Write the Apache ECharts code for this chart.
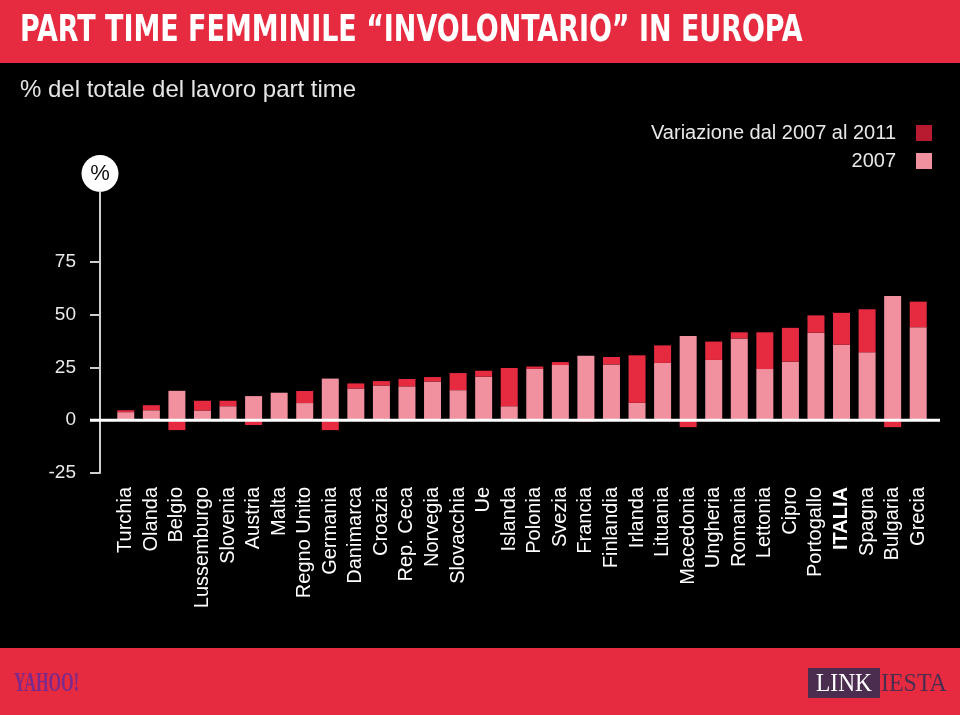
<!DOCTYPE html>
<html>
<head>
<meta charset="utf-8">
<script src="https://cdn.jsdelivr.net/npm/echarts@6/dist/echarts.min.js"></script>
<style>
html,body{margin:0;padding:0;background:#000;}
#c{width:960px;height:715px;}
</style>
</head>
<body>
<div id="c"></div>
<script>
var categories = ['Turchia','Olanda','Belgio','Lussemburgo','Slovenia','Austria','Malta','Regno Unito','Germania','Danimarca','Croazia','Rep. Ceca','Norvegia','Slovacchia','Ue','Islanda','Polonia','Svezia','Francia','Finlandia','Irlanda','Lituania','Macedonia','Ungheria','Romania','Lettonia','Cipro','Portogallo','ITALIA','Spagna','Bulgaria','Grecia'];
var values2007 = [3.8, 4.7, 13.9, 4.6, 6.6, 11.4, 13.0, 8.1, 19.7, 15.0, 16.4, 16.0, 18.3, 14.2, 20.6, 6.6, 24.3, 26.1, 30.5, 26.4, 8.2, 27.1, 39.9, 28.5, 38.7, 24.2, 27.7, 41.4, 35.7, 32.1, 58.8, 44.0];
var variation = [0.9, 2.4, -4.7, 4.6, 2.6, -2.3, 0, 5.7, -4.7, 2.4, 2.1, 3.5, 2.1, 8.1, 2.8, 18.1, 1.1, 1.4, -0.6, 3.5, 22.5, 8.3, -3.3, 8.7, 2.9, 17.4, 16.0, 8.2, 15.1, 20.4, -3.3, 12.1];
var yTicks = [-25, 0, 25, 50, 75];

var titleText = 'PART TIME FEMMINILE \u201CINVOLONTARIO\u201D IN EUROPA';
var subtitleText = '% del totale del lavoro part time';
var legendVar = 'Variazione dal 2007 al 2011';
var legend2007 = '2007';

var RED = '#e62b40';
var PINK = '#f1909f';
var FONT = "'Liberation Sans', Arial, sans-serif";

var chart = echarts.init(document.getElementById('c'), null, {renderer: 'canvas'});
chart.setOption({
  backgroundColor: '#000',
  animation: false,
  textStyle: {fontFamily: FONT},
  legend: {
    data: [
      {name: legendVar, itemStyle: {color: '#b81b30'}},
      {name: legend2007, itemStyle: {color: PINK}}
    ],
    orient: 'vertical',
    align: 'right',
    right: 23,
    top: 118,
    itemWidth: 16,
    itemHeight: 16,
    itemGap: 8,
    icon: 'rect',
    selectedMode: false,
    textStyle: {color: '#e8e8e8', fontSize: 20, fontFamily: FONT, padding: [0, 15, 0, 0]}
  },
  grid: {left: 113, right: 29, top: 192, bottom: 242, containLabel: false},
  xAxis: {
    type: 'category',
    data: categories,
    axisLine: {show: false, onZero: false},
    axisTick: {show: false},
    axisLabel: {
      interval: 0,
      rotate: 90,
      margin: 14,
      color: '#fff',
      fontSize: 20,
      fontFamily: FONT,
      formatter: function (v) { return v === 'ITALIA' ? '{b|' + v + '}' : v; },
      rich: {b: {fontWeight: 'bold', fontSize: 20, color: '#fff', fontFamily: FONT}}
    }
  },
  yAxis: {
    type: 'value',
    min: -25,
    max: 108,
    interval: 25,
    offset: 13,
    name: '{c|%}',
    nameLocation: 'end',
    nameGap: 0,
    nameTextStyle: {
      rich: {
        c: {
          color: '#111', fontSize: 22, fontFamily: FONT,
          backgroundColor: '#fff', width: 37, height: 37, lineHeight: 37,
          borderRadius: 18.5, align: 'center'
        }
      }
    },
    splitLine: {show: false},
    axisLine: {show: true, lineStyle: {color: '#cfcfcf', width: 2}},
    axisTick: {show: true, length: 10, lineStyle: {color: '#cfcfcf', width: 2}, customValues: yTicks},
    axisLabel: {color: '#eaeaea', fontSize: 19, margin: 24, fontFamily: FONT, customValues: yTicks}
  },
  series: [
    {name: legend2007, type: 'bar', stack: 'tot', data: values2007, barWidth: 17, itemStyle: {color: PINK}},
    {name: legendVar, type: 'bar', stack: 'tot', data: variation, barWidth: 17, itemStyle: {color: RED}}
  ]
});

var y0 = chart.convertToPixel({yAxisIndex: 0}, 0);
chart.setOption({
  graphic: [
    {type: 'rect', id: 'topband', shape: {x: 0, y: 0, width: 960, height: 63}, style: {fill: RED}, z: 1},
    {type: 'text', id: 'title', x: 20, y: 32, scaleX: 0.856, scaleY: 1.04, style: {text: titleText, fill: '#fff', font: "bold 35px 'Liberation Sans Narrow', 'DejaVu Sans Condensed', sans-serif", verticalAlign: 'middle'}, z: 2},
    {type: 'text', id: 'sub', x: 20, y: 90, style: {text: subtitleText, fill: '#e6e6e6', font: "24px " + FONT, verticalAlign: 'middle'}, z: 2},
    {type: 'line', id: 'zero', shape: {x1: 90, y1: y0, x2: 940, y2: y0}, style: {stroke: '#fff', lineWidth: 3}, z: 10},
    {type: 'rect', id: 'botband', shape: {x: 0, y: 648, width: 960, height: 67}, style: {fill: RED}, z: 1},
    {type: 'text', id: 'yahoo', x: 14, y: 684, scaleX: 0.6, style: {text: 'YAHOO!', fill: '#7b2a8c', font: "bold 27px 'Liberation Serif', serif", verticalAlign: 'middle'}, z: 2},
    {type: 'rect', id: 'linkbox', shape: {x: 808, y: 668, width: 72, height: 30}, style: {fill: '#4b2e4f'}, z: 2},
    {type: 'text', id: 'link', x: 844, y: 684, scaleX: 0.9, style: {text: 'LINK', fill: '#fff', font: "26px 'Liberation Serif', serif", align: 'center', verticalAlign: 'middle'}, z: 3},
    {type: 'text', id: 'iesta', x: 881, y: 684, scaleX: 0.92, style: {text: 'IESTA', fill: '#4b2e4f', font: "26px 'Liberation Serif', serif", verticalAlign: 'middle'}, z: 3}
  ]
});
</script>
</body>
</html>
